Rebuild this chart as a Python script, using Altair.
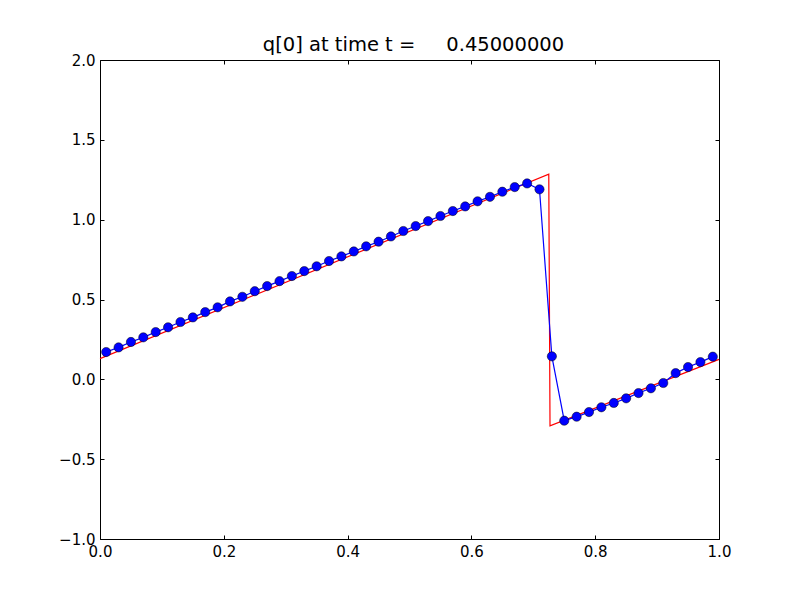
import altair as alt
import pandas as pd

x_num = [0.01, 0.03, 0.05, 0.07, 0.09, 0.11, 0.13, 0.15, 0.17, 0.19,
         0.21, 0.23, 0.25, 0.27, 0.29, 0.31, 0.33, 0.35, 0.37, 0.39,
         0.41, 0.43, 0.45, 0.47, 0.49, 0.51, 0.53, 0.55, 0.57, 0.59,
         0.61, 0.63, 0.65, 0.67, 0.69, 0.71, 0.73, 0.75, 0.77, 0.79,
         0.81, 0.83, 0.85, 0.87, 0.89, 0.91, 0.93, 0.95, 0.97, 0.99]
q_num = [0.171, 0.200, 0.234, 0.263, 0.296, 0.326, 0.359, 0.388, 0.421, 0.451,
         0.488, 0.517, 0.552, 0.584, 0.615, 0.647, 0.678, 0.708, 0.741, 0.770,
         0.801, 0.833, 0.862, 0.895, 0.929, 0.960, 0.991, 1.023, 1.054, 1.083,
         1.115, 1.143, 1.175, 1.204, 1.227, 1.190, 0.144, -0.259, -0.234, -0.205,
         -0.175, -0.148, -0.119, -0.086, -0.056, -0.023, 0.039, 0.077, 0.108, 0.142]

x_true = [0.0, 0.725, 0.727, 1.0]
q_true = [0.13, 1.285, -0.291, 0.125]

x_ticks = [0.0, 0.2, 0.4, 0.6, 0.8, 1.0]
y_ticks = [-1.0, -0.5, 0.0, 0.5, 1.0, 1.5, 2.0]

title_text = "q[0] at time t =\u00a0\u00a0\u00a0\u00a0 0.45000000"

df_num = pd.DataFrame({"x": x_num, "q": q_num})
df_true = pd.DataFrame({"x": x_true, "q": q_true, "order": list(range(len(x_true)))})

FONT = "DejaVu Sans"

xscale = alt.Scale(domain=[0, 1], nice=False, zero=False)
yscale = alt.Scale(domain=[-1, 2], nice=False, zero=False)

common_axis = dict(grid=False, domain=False, tickSize=4, tickColor="black",
                   tickWidth=1, offset=-4, title=None, labelFont=FONT,
                   labelFontSize=15, labelColor="black", format=".1f",
                   labelFlush=False, labelOverlap=False)

red = alt.Chart(df_true).mark_line(color="red", strokeWidth=1.2).encode(
    x=alt.X("x:Q", scale=xscale,
            axis=alt.Axis(orient="bottom", values=x_ticks, labelPadding=5, **common_axis)),
    y=alt.Y("q:Q", scale=yscale,
            axis=alt.Axis(orient="left", values=y_ticks, labelPadding=5, **common_axis)),
    order="order:O",
)

blue = alt.Chart(df_num).mark_line(
    color="#0000ff", strokeWidth=1.2,
    point=alt.OverlayMarkDef(filled=True, fill="#0000ff", stroke="black",
                             strokeWidth=0.5, size=85, opacity=1),
).encode(
    x=alt.X("x:Q", scale=xscale,
            axis=alt.Axis(orient="top", values=x_ticks, labels=False, **common_axis)),
    y=alt.Y("q:Q", scale=yscale,
            axis=alt.Axis(orient="right", values=y_ticks, labels=False, **common_axis)),
)

chart = alt.layer(red, blue).resolve_axis(x="independent", y="independent").properties(
    width=619,
    height=479,
    background="white",
    padding={"left": 92, "top": 52, "right": 73, "bottom": 53},
    autosize=alt.AutoSizeParams(type="none"),
    title=alt.TitleParams(title_text, font=FONT, fontSize=19.5, fontWeight="normal",
                          color="black", offset=-2, anchor="middle", dx=4),
).configure_view(stroke="black", strokeWidth=1)

chart.save("out.html", embed_options={"renderer": "svg", "actions": False})
